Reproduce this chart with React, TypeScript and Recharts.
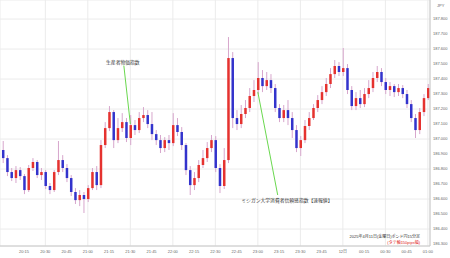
import React from 'react';
import { ComposedChart, Bar, XAxis, YAxis, CartesianGrid, ReferenceLine, ReferenceDot } from 'recharts';

// ポンド円 2025/4/11 20:00〜01:00 (3分ごとのローソク足)
const STEP_MIN = 3;

const opens = [
  186.927, 186.873, 186.78, 186.74, 186.793, 186.753, 186.66, 186.807, 186.847, 186.76,
  186.78, 186.687, 186.66, 186.78, 186.86, 186.807, 186.74, 186.647, 186.593, 186.627,
  186.6, 186.673, 186.78, 186.693, 186.96, 187.073, 187.18, 186.993, 187.073, 187.113,
  187.007, 187.093, 187.06, 187.14, 187.16, 187.1, 187.033, 186.993, 186.94, 186.993,
  186.973, 187.093, 187.047, 186.96, 186.793, 186.693, 186.74, 186.827, 186.873, 186.94,
  186.993, 186.807, 186.687, 186.86, 187.54, 187.14, 187.1, 187.167, 187.207, 187.287,
  187.327, 187.407, 187.353, 187.393, 187.34, 187.207, 187.14, 187.193, 187.14, 187.06,
  186.94, 186.993, 187.087, 187.14, 187.207, 187.26, 187.313, 187.367, 187.433, 187.487,
  187.447, 187.473, 187.327, 187.22, 187.273, 187.233, 187.3, 187.34, 187.407, 187.447,
  187.38, 187.327, 187.353, 187.313, 187.34, 187.3, 187.233, 187.14, 187.06, 187.18,
  187.273,
];
const highs = [
  186.987, 186.893, 186.807, 186.82, 186.813, 186.767, 186.827, 186.873, 186.86, 186.807,
  186.793, 186.707, 186.793, 186.987, 186.893, 186.833, 186.76, 186.673, 186.66, 186.647,
  186.693, 186.807, 186.82, 186.993, 187.113, 187.22, 187.193, 187.14, 187.173, 187.14,
  187.16, 187.127, 187.18, 187.213, 187.193, 187.18, 187.06, 187.027, 187.013, 187.027,
  187.173, 187.14, 187.08, 186.973, 186.82, 186.78, 186.86, 186.927, 186.98, 187.027,
  187.02, 186.833, 186.94, 187.68, 187.58, 187.193, 187.227, 187.26, 187.34, 187.393,
  187.513, 187.46, 187.447, 187.433, 187.367, 187.233, 187.227, 187.26, 187.18, 187.093,
  187.02, 187.127, 187.18, 187.233, 187.293, 187.353, 187.407, 187.473, 187.527, 187.513,
  187.607, 187.5, 187.353, 187.313, 187.327, 187.34, 187.393, 187.447, 187.487, 187.473,
  187.407, 187.38, 187.367, 187.367, 187.36, 187.327, 187.26, 187.167, 187.207, 187.3,
  187.367,
];
const lows = [
  186.84, 186.753, 186.72, 186.707, 186.727, 186.633, 186.647, 186.787, 186.74, 186.727,
  186.667, 186.633, 186.647, 186.76, 186.78, 186.713, 186.62, 186.567, 186.553, 186.507,
  186.58, 186.66, 186.66, 186.673, 186.94, 187.053, 186.94, 186.973, 187.047, 186.98,
  186.96, 187.027, 187.04, 187.113, 187.073, 186.993, 186.96, 186.907, 186.913, 186.927,
  186.953, 187.02, 186.927, 186.76, 186.627, 186.66, 186.713, 186.807, 186.847, 186.913,
  186.78, 186.64, 186.667, 186.84, 187.073, 187.06, 187.073, 187.14, 187.18, 187.247,
  187.3, 187.313, 187.327, 187.307, 187.18, 187.113, 187.113, 187.093, 187.007, 186.913,
  186.887, 186.973, 187.06, 187.127, 187.18, 187.233, 187.287, 187.34, 187.407, 187.42,
  187.42, 187.3, 187.193, 187.193, 187.207, 187.213, 187.273, 187.313, 187.38, 187.353,
  187.3, 187.287, 187.28, 187.287, 187.273, 187.207, 187.113, 187.007, 187.033, 187.153,
  187.26,
];
const closes = [
  186.873, 186.78, 186.74, 186.793, 186.753, 186.66, 186.807, 186.847, 186.76, 186.78,
  186.687, 186.66, 186.78, 186.86, 186.807, 186.74, 186.647, 186.593, 186.627, 186.6,
  186.673, 186.78, 186.693, 186.96, 187.073, 187.18, 186.993, 187.073, 187.113, 187.007,
  187.093, 187.06, 187.14, 187.16, 187.1, 187.033, 186.993, 186.94, 186.993, 186.973,
  187.093, 187.047, 186.96, 186.793, 186.693, 186.74, 186.827, 186.873, 186.94, 186.993,
  186.807, 186.687, 186.86, 187.54, 187.14, 187.1, 187.167, 187.207, 187.287, 187.327,
  187.407, 187.353, 187.393, 187.34, 187.207, 187.14, 187.193, 187.14, 187.06, 186.94,
  186.993, 187.087, 187.14, 187.207, 187.26, 187.313, 187.367, 187.433, 187.487, 187.447,
  187.473, 187.327, 187.22, 187.273, 187.233, 187.3, 187.34, 187.407, 187.447, 187.38,
  187.327, 187.353, 187.313, 187.34, 187.3, 187.233, 187.14, 187.06, 187.18, 187.273,
  187.34,
];

const tickMinutes = [0, 15, 30, 45, 60, 75, 90, 105, 120, 135, 150, 165, 180, 195, 210, 225, 240, 255, 270, 285, 300];
const tickLabels = [
  '20:00', '20:15', '20:30', '20:45', '21:00', '21:15', '21:30', '21:45', '22:00', '22:15', '22:30',
  '22:45', '23:00', '23:15', '23:30', '23:45', '12日', '00:15', '00:30', '00:45', '01:00',
];
const priceTicks = [186.3, 186.4, 186.5, 186.6, 186.7, 186.8, 186.9, 187.0, 187.1, 187.2, 187.3, 187.4, 187.5, 187.6, 187.7, 187.8];

// 経済指標の注記
const eventNames = ['生産者物価指数', 'ミシガン大学消費者信頼感指数【速報値】'];
const eventMinutes = [90, 180];
const eventPrices = [187.1, 187.313];
const lineEndMinutes = [85.4, 194];
const lineEndPrices = [187.49, 186.627];
const textMinutes = [84.7, 200.5];
const textPrices = [187.513, 186.593];

const UP = '#e5322f';
const DOWN = '#3333cc';
const WICK = '#d7a6cc';

const data = opens.map((o, i) => ({
  t: i * STEP_MIN,
  open: o,
  high: highs[i],
  low: lows[i],
  close: closes[i],
  range: [lows[i], highs[i]],
}));

function Candle(props: any) {
  const { x, y, width, height, payload } = props;
  if (x == null || y == null) return null;
  const { open, close, high, low } = payload;
  const top = Math.min(y, y + height);
  const h = Math.abs(height);
  const span = high - low || 1;
  const py = (p: number) => top + ((high - p) / span) * h;
  const up = close >= open;
  const bTop = py(Math.max(open, close));
  const bBot = py(Math.min(open, close));
  const cx = x + width / 2;
  return (
    <g>
      <line x1={cx} x2={cx} y1={top} y2={top + h} stroke={WICK} strokeWidth={1} />
      <rect x={x + 0.25} y={bTop} width={width - 0.5} height={Math.max(bBot - bTop, 1)} fill={up ? UP : DOWN} />
    </g>
  );
}

export default function App() {
  return (
    <div
      style={{
        position: 'absolute',
        left: 0,
        top: 0,
        width: 450,
        height: 258,
        background: '#fff',
        fontFamily: "'Liberation Sans', 'Noto Sans CJK JP', sans-serif",
      }}
    >
      <ComposedChart width={450} height={258} data={data} margin={{ top: 0, right: 0, bottom: 0, left: 0 }}>
        <CartesianGrid stroke="#ebebeb" />
        <XAxis
          dataKey="t"
          type="number"
          domain={[-2, 301.5]}
          ticks={tickMinutes}
          tickFormatter={(v: number) => tickLabels[tickMinutes.indexOf(v)]}
          allowDataOverflow
          height={12}
          tickLine={false}
          tickSize={0}
          tickMargin={4}
          axisLine={{ stroke: '#c8c8c8' }}
          tick={{ fontSize: 4, fill: '#666' }}
        />
        <YAxis
          orientation="right"
          type="number"
          domain={[186.287, 187.927]}
          ticks={priceTicks}
          tickFormatter={(v: number) => v.toFixed(3)}
          allowDataOverflow
          width={20}
          tickLine={false}
          tickSize={0}
          tickMargin={3}
          axisLine={{ stroke: '#c8c8c8' }}
          tick={{ fontSize: 4, fill: '#666', textAnchor: 'start' }}
        />
        <Bar dataKey="range" barSize={3} shape={<Candle />} isAnimationActive={false} />
        {eventNames.map((name, i) => (
          <ReferenceLine
            key={'l' + i}
            segment={[
              { x: lineEndMinutes[i], y: lineEndPrices[i] },
              { x: eventMinutes[i], y: eventPrices[i] },
            ]}
            stroke="#6ad84f"
            strokeWidth={1}
            ifOverflow="visible"
          />
        ))}
        {eventNames.map((name, i) => (
          <ReferenceDot
            key={'d' + i}
            x={textMinutes[i]}
            y={textPrices[i]}
            r={0}
            fill="none"
            stroke="none"
            ifOverflow="visible"
            label={{ value: name, position: 'center', fontSize: 4.8, fill: '#333' }}
          />
        ))}
      </ComposedChart>
      <svg width={450} height={258} style={{ position: 'absolute', left: 0, top: 0, pointerEvents: 'none' }}>
        <text x={437} y={7} fontSize={4} fill="#666">JPY</text>
        <text x={420} y={238} fontSize={4} fill="#333" textAnchor="end">2025年4月11日(金曜日)ポンド円15分足</text>
        <text x={420} y={243.5} fontSize={4} fill="#e02020" textAnchor="end">(タテ軸150pips幅)</text>
      </svg>
    </div>
  );
}
